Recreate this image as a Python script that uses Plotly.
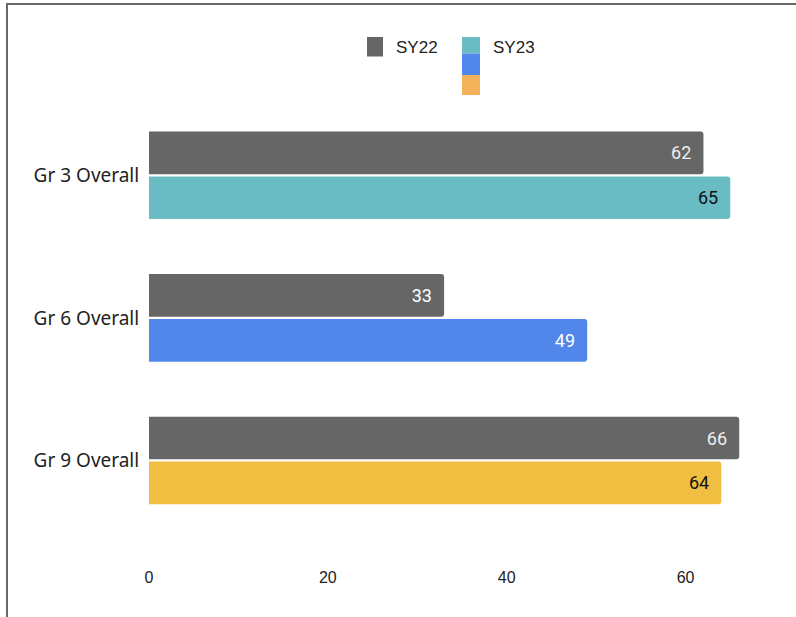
import plotly.graph_objects as go

categories = ["Gr 3 Overall", "Gr 6 Overall", "Gr 9 Overall"]
sy22 = [62, 33, 66]
sy23 = [65, 49, 64]
series_names = ["SY22", "SY23"]
x_ticks = [0, 20, 40, 60]

sy22_colors = ["#666666", "#666666", "#666666"]
sy23_colors = ["#69BCC4", "#5186EA", "#F0BE41"]
sy22_text_colors = ["#EEEEEE", "#FFFFFF", "#EEEEEE"]
sy23_text_colors = ["#111111", "#FFFFFF", "#111111"]

W, H = 796, 617
L, R, T, B = 149, 21, 104, 51
PW, PH = W - L - R, H - T - B


def px(x):
    return (x - L) / PW


def py(y):
    return 1 - (y - T) / PH


fig = go.Figure()
fig.add_trace(go.Bar(
    y=categories, x=sy22, orientation="h", name=series_names[0],
    marker=dict(color=sy22_colors, line=dict(width=0)),
    text=sy22, texttemplate="%{x}\u2002", textposition="inside", insidetextanchor="end",
    textfont=dict(family="Roboto", size=18, color=sy22_text_colors),
    showlegend=False,
))
fig.add_trace(go.Bar(
    y=categories, x=sy23, orientation="h", name=series_names[1],
    marker=dict(color=sy23_colors, line=dict(width=0)),
    text=sy23, texttemplate="%{x}\u2002", textposition="inside", insidetextanchor="end",
    textfont=dict(family="Roboto", size=18, color=sy23_text_colors),
    showlegend=False,
))

shapes = []
# outer frame
shapes.append(dict(type="rect", xref="paper", yref="paper",
                   x0=px(7), x1=px(W + 20), y0=py(H + 20), y1=py(4),
                   line=dict(color="#686868", width=2), fillcolor="rgba(0,0,0,0)", layer="above"))
# legend swatches
shapes.append(dict(type="rect", xref="paper", yref="paper", x0=px(367), x1=px(383), y0=py(56.5), y1=py(37),
                   fillcolor="#666666", line=dict(width=0)))
shapes.append(dict(type="rect", xref="paper", yref="paper", x0=px(462), x1=px(480), y0=py(53.5), y1=py(37),
                   fillcolor="#69BCC4", line=dict(width=0)))
shapes.append(dict(type="rect", xref="paper", yref="paper", x0=px(462), x1=px(480), y0=py(75), y1=py(53.5),
                   fillcolor="#5186EA", line=dict(width=0)))
shapes.append(dict(type="rect", xref="paper", yref="paper", x0=px(462), x1=px(480), y0=py(95), y1=py(75),
                   fillcolor="#F4B25A", line=dict(width=0)))

annotations = [
    dict(text=series_names[0], xref="paper", yref="paper", x=px(394), y=py(47), xanchor="left", yanchor="middle",
         showarrow=False, font=dict(family="Liberation Sans, Arial", size=17, color="#222222")),
    dict(text=series_names[1], xref="paper", yref="paper", x=px(491), y=py(47), xanchor="left", yanchor="middle",
         showarrow=False, font=dict(family="Liberation Sans, Arial", size=17, color="#222222")),
]

fig.update_layout(
    width=W, height=H,
    margin=dict(l=L, r=R, t=T, b=B, pad=0),
    paper_bgcolor="white", plot_bgcolor="white",
    barmode="group", bargap=0.37, bargroupgap=0.05,
    barcornerradius=3,
    shapes=shapes, annotations=annotations,
    showlegend=False,
    xaxis=dict(range=[0, 70], tickvals=x_ticks, showgrid=False, zeroline=False, showline=False,
               ticks="", tickfont=dict(family="Liberation Sans, Arial", size=16, color="#222222")),
    yaxis=dict(range=[2.74, -0.5], showgrid=False, zeroline=False, showline=False,
               ticks="outside", ticklen=5, tickcolor="rgba(0,0,0,0)",
               tickfont=dict(family="Noto Sans", size=19, color="#222222")),
)

fig.write_html("out.html")
